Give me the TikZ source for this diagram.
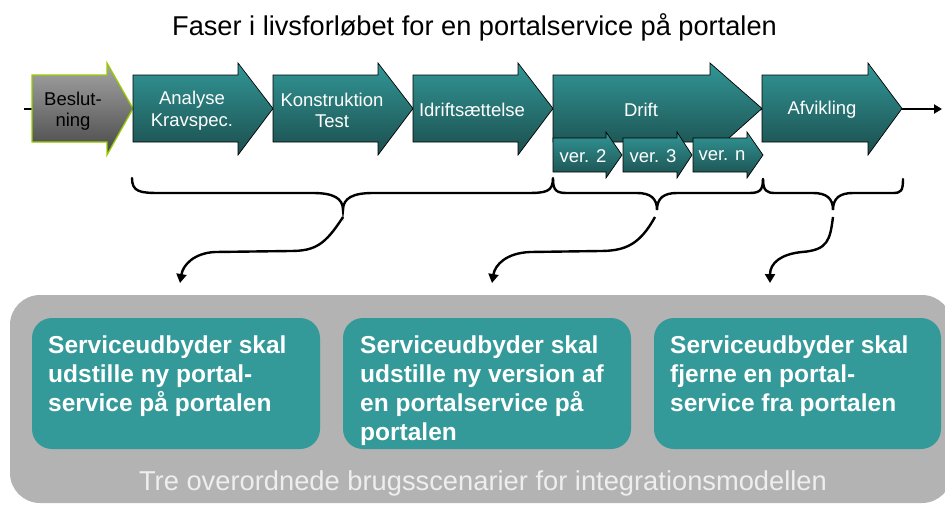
\documentclass[tikz,border=0pt]{standalone}
\usepackage{fontspec}
\setmainfont{Liberation Sans}
\usetikzlibrary{arrows.meta}
\definecolor{tealtop}{RGB}{50,150,150}
\definecolor{tealbot}{RGB}{28,78,78}
\definecolor{graytop}{RGB}{165,165,165}
\definecolor{graybot}{RGB}{72,72,72}
\definecolor{limeedge}{RGB}{153,204,0}
\definecolor{boxteal}{RGB}{51,153,153}
\definecolor{bggray}{RGB}{179,179,179}
\definecolor{captxt}{RGB}{238,238,238}
\tikzset{
  teal arrow/.style={draw=black, line width=0.7pt, top color=tealtop, bottom color=tealbot},
  gray arrow/.style={draw=limeedge, line width=1.3pt, top color=graytop, bottom color=graybot},
  lbl/.style={text=white, font=\fontsize{18.5}{21.5}\selectfont, align=center, inner sep=0pt},
  brace/.style={line width=2.4pt, line cap=round},
  conn/.style={line width=2.4pt, -{Triangle[length=9pt,width=10pt]}},
  scen/.style={fill=boxteal, rounded corners=20pt},
  scentext/.style={text=white, font=\fontsize{24.5}{29}\selectfont\bfseries, align=left, inner sep=0pt, anchor=north west},
}
% optional style, x0, x1 (head base), x2 (tip), body top, body bottom, head top, head bottom
\newcommand\barrow[8][teal arrow]{%
  \path[#1] (#2,#5) -- (#3,#5) -- (#3,#7) -- (#4,{(#5+#6)/2}) -- (#3,#8) -- (#3,#6) -- (#2,#6) -- cycle;}
\begin{document}
\begin{tikzpicture}[x=1pt,y=-1pt]
\useasboundingbox (0,0) rectangle (945,504);

% title
\node[anchor=base, font=\fontsize{27.2}{30}\selectfont, inner sep=0pt] (title) at (474.5,35.7)
  {Faser i livsforløbet for en portalservice på portalen};

% timeline
\coordinate (tlstart) at (24,109);
\coordinate (tlend) at (942,109);
\draw[line width=2.2pt, -{Triangle[length=8pt,width=9pt]}] (tlstart) -- (tlend);

% phase arrows
\barrow[gray arrow]{32}{107}{133}{75}{142}{63}{155}
\barrow{133}{238}{273}{75}{142}{63}{155}
\barrow{273}{378}{413}{75}{142}{63}{155}
\barrow{413}{518}{553}{75}{142}{63}{155}
\barrow{553}{710}{762}{75}{142}{63}{155}
\barrow{762}{868}{902}{75}{142}{63}{155}
% version arrows
\barrow{553}{606}{622}{138}{172}{132}{178}
\barrow{623}{677}{692}{138}{172}{132}{178}
\barrow{693}{747}{763}{138}{172}{132}{178}

\node[lbl, text=black] (beslut) at (73,111) {Beslut-\\ning};
\node[lbl] (analyse) at (192,110.5) {Analyse\\Kravspec.};
\node[lbl] (konstr) at (332,110.5) {Konstruktion\\Test};
\node[lbl] (idrift) at (472,110) {Idriftsættelse};
\node[lbl] (drift) at (641,110) {Drift};
\node[lbl] (afvikl) at (822,110) {Afvikling};
\node[lbl] (v2) at (583,156) {ver. 2};
\node[lbl] (v3) at (653,156) {ver. 3};
\node[lbl] (vn) at (722,156) {ver. n};

% braces
\draw[brace] (132,178) .. controls (132,192) and (140,193) .. (160,193) -- (313,193)
  .. controls (333,193) and (343,198) .. (343,210)
  .. controls (343,198) and (353,193) .. (373,193) -- (526,193)
  .. controls (546,193) and (553,192) .. (553,178);
\draw[brace] (553,179) .. controls (553,191) and (557,193) .. (567,193) -- (637,193)
  .. controls (650,193) and (657,198) .. (657,210)
  .. controls (657,198) and (664,193) .. (677,193) -- (749,193)
  .. controls (759,193) and (763,191) .. (763,179);
\draw[brace] (763,179) .. controls (763,191) and (767,193) .. (775,193) -- (813,193)
  .. controls (826,193) and (833,198) .. (833,210)
  .. controls (833,198) and (840,193) .. (853,193) -- (893,193)
  .. controls (901,193) and (903,191) .. (903,179);

% connectors
\coordinate (b1) at (343,217);
\coordinate (b2) at (655,217);
\coordinate (b3) at (833,217);
\coordinate (t1) at (180,283);
\coordinate (t2) at (492,283);
\coordinate (t3) at (770,283);
\draw[conn] (b1) .. controls (325,245) and (315,251) .. (290,251) -- (215,252)
  .. controls (194,253) and (183,265) .. (t1);
\draw[conn] (b2) .. controls (640,244) and (626,251) .. (600,251) -- (530,252)
  .. controls (506,253) and (495,265) .. (t2);
\draw[conn] (b3) .. controls (830,240) and (828,250) .. (802,252)
  .. controls (781,254) and (770,263) .. (t3);

% scenario panel
\fill[bggray, rounded corners=30pt] (10,295) rectangle (952,503);
\fill[scen] (32,318) rectangle (320,449);
\fill[scen] (343,318) rectangle (631,449);
\fill[scen] (654,318) rectangle (941,449);
\node[scentext] (s1) at (48,336) {Serviceudbyder skal\\udstille ny portal-\\service på portalen};
\node[scentext] (s2) at (360,336) {Serviceudbyder skal\\udstille ny version af\\en portalservice på\\portalen};
\node[scentext] (s3) at (670,336) {Serviceudbyder skal\\fjerne en portal-\\service fra portalen};
\node[anchor=base, text=captxt, font=\fontsize{27.3}{30}\selectfont, inner sep=0pt] (caption) at (483,490)
  {Tre overordnede brugsscenarier for integrationsmodellen};
\end{tikzpicture}
\end{document}
